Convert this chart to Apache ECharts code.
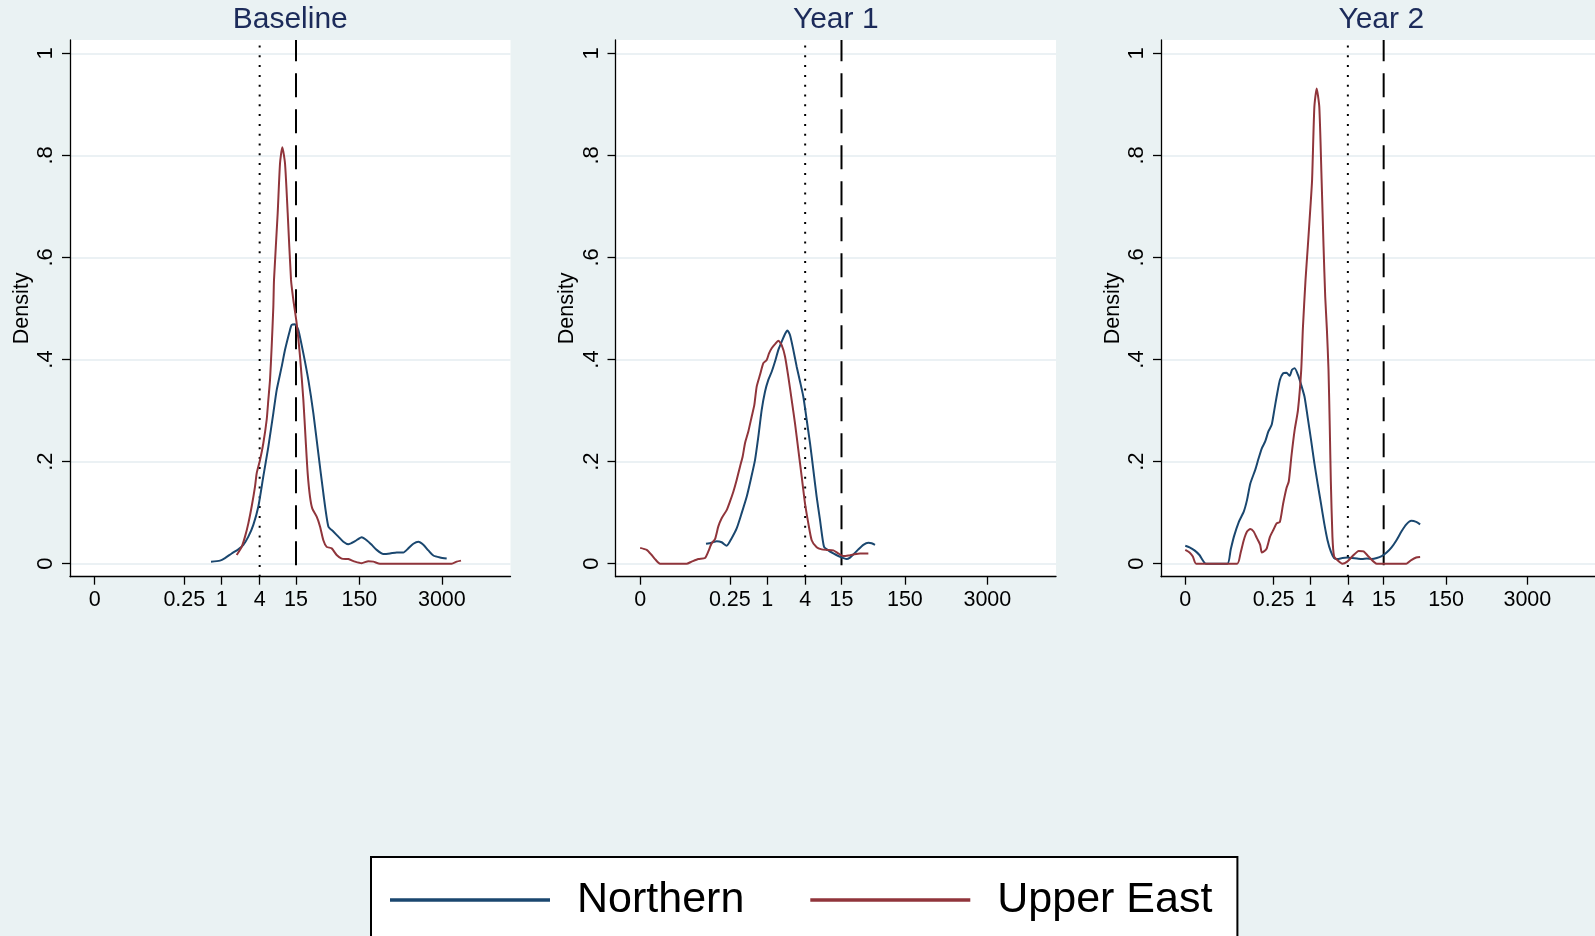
<!DOCTYPE html>
<html>
<head>
<meta charset="utf-8">
<script src="https://cdn.jsdelivr.net/npm/echarts@6/dist/echarts.min.js"></script>
<style>
html,body{margin:0;padding:0;background:#eaf2f3;}
#c{width:1595px;height:936px;}
</style>
</head>
<body>
<div id="c"></div>
<script>
// ---- tick labels / axis values ----
const xTickValues = [0, 0.25, 1, 4, 15, 150, 3000];
const xTickLabels = ['0', '0.25', '1', '4', '15', '150', '3000'];
const yTickValues = [0, 0.2, 0.4, 0.6, 0.8, 1];
const yTickLabels = ['0', '.2', '.4', '.6', '.8', '1'];
const panelTitles = ['Baseline', 'Year 1', 'Year 2'];
const seriesNames = ['Northern', 'Upper East'];
const dottedLineAt = 4;
const dashedLineAt = 15;

// ---- density curves; x in ln(value + 0.01) units ----
const baseNorthX = [-0.378,-0.051,0.130,0.372,0.614,0.796,0.978,1.159,1.341,1.522,1.704,1.886,2.007,2.189,2.310,2.491,2.552,2.673,2.794,2.976,3.157,3.339,3.520,3.702,3.884,4.065,4.247,4.429,4.610,4.852,5.095,5.276,5.458,5.639,5.881,6.124,6.366,6.608,6.789,6.971,7.153,7.334,7.516,7.698,7.940,8.182];
const baseNorthY = [0.004,0.006,0.011,0.020,0.028,0.037,0.053,0.076,0.112,0.171,0.229,0.295,0.340,0.386,0.419,0.458,0.468,0.469,0.458,0.412,0.360,0.295,0.216,0.138,0.073,0.063,0.053,0.043,0.038,0.044,0.052,0.046,0.037,0.027,0.019,0.020,0.022,0.022,0.030,0.039,0.043,0.037,0.026,0.016,0.012,0.010];

const baseEastX = [0.554,0.736,0.857,0.978,1.099,1.220,1.281,1.402,1.522,1.644,1.704,1.765,1.825,1.886,1.910,2.044,2.128,2.212,2.310,2.407,2.528,2.612,2.733,2.855,2.976,3.060,3.133,3.218,3.302,3.460,3.581,3.702,3.823,4.005,4.186,4.368,4.610,4.852,5.095,5.337,5.518,5.760,8.364,8.545,8.703];
const baseEastY = [0.017,0.033,0.053,0.079,0.112,0.151,0.177,0.203,0.236,0.282,0.321,0.360,0.425,0.504,0.556,0.687,0.784,0.816,0.784,0.687,0.556,0.517,0.471,0.406,0.321,0.242,0.177,0.131,0.108,0.092,0.073,0.046,0.033,0.030,0.017,0.010,0.009,0.004,0.001,0.005,0.004,0.000,0.000,0.004,0.006];

const y1NorthX = [-2.213,-2.007,-1.825,-1.644,-1.462,-1.280,-1.099,-0.917,-0.735,-0.578,-0.433,-0.312,-0.191,-0.070,0.051,0.173,0.294,0.415,0.536,0.657,0.742,0.838,0.959,1.081,1.202,1.323,1.444,1.565,1.686,1.807,1.928,2.074,2.231,2.413,2.594,2.776,2.897,3.018,3.139,3.320,3.502,3.684,3.805,3.926];
const y1NorthY = [0.039,0.041,0.044,0.042,0.035,0.050,0.069,0.099,0.131,0.167,0.203,0.249,0.301,0.337,0.360,0.376,0.396,0.419,0.435,0.450,0.457,0.448,0.419,0.386,0.357,0.327,0.282,0.236,0.184,0.131,0.086,0.033,0.026,0.020,0.015,0.011,0.009,0.012,0.018,0.028,0.037,0.041,0.040,0.037];

const y1EastX = [-4.605,-4.368,-4.186,-4.065,-3.884,-2.915,-2.733,-2.491,-2.249,-2.128,-2.007,-1.886,-1.765,-1.644,-1.462,-1.341,-1.220,-1.099,-0.978,-0.881,-0.796,-0.675,-0.554,-0.457,-0.372,-0.251,-0.130,-0.009,0.076,0.173,0.294,0.415,0.536,0.657,0.778,0.899,1.020,1.141,1.262,1.383,1.504,1.626,1.807,1.989,2.170,2.413,2.594,2.776,2.957,3.139,3.381,3.684];
const y1EastY = [0.031,0.027,0.017,0.009,0.000,0.000,0.004,0.009,0.011,0.024,0.040,0.048,0.073,0.089,0.105,0.122,0.141,0.164,0.190,0.210,0.236,0.259,0.288,0.311,0.347,0.370,0.393,0.399,0.412,0.422,0.430,0.437,0.428,0.406,0.366,0.321,0.275,0.223,0.171,0.118,0.079,0.046,0.032,0.028,0.027,0.026,0.020,0.015,0.016,0.018,0.020,0.020];

const y2NorthX = [-4.605,-4.447,-4.265,-4.083,-3.841,-3.054,-2.933,-2.812,-2.630,-2.449,-2.328,-2.207,-2.025,-1.904,-1.783,-1.662,-1.541,-1.420,-1.323,-1.238,-1.117,-0.996,-0.875,-0.754,-0.669,-0.572,-0.451,-0.330,-0.209,-0.088,0.033,0.154,0.275,0.397,0.518,0.639,0.760,0.881,1.002,1.184,1.365,1.547,1.728,1.910,2.092,2.273,2.455,2.637,2.818,3.000,3.181,3.363,3.545,3.726,3.908,4.053];
const y2NorthY = [0.035,0.032,0.026,0.017,0.000,0.000,0.027,0.053,0.082,0.102,0.125,0.157,0.184,0.206,0.226,0.239,0.259,0.272,0.301,0.327,0.360,0.373,0.374,0.368,0.380,0.383,0.370,0.350,0.327,0.285,0.242,0.197,0.157,0.118,0.079,0.046,0.024,0.011,0.009,0.011,0.012,0.011,0.010,0.009,0.010,0.009,0.011,0.015,0.022,0.032,0.046,0.063,0.077,0.084,0.082,0.077];

const y2EastX = [-4.605,-4.447,-4.326,-4.204,-2.691,-2.570,-2.449,-2.328,-2.207,-2.086,-1.965,-1.844,-1.783,-1.662,-1.601,-1.480,-1.359,-1.238,-1.117,-0.996,-0.875,-0.790,-0.693,-0.572,-0.451,-0.330,-0.269,-0.172,-0.088,0.009,0.070,0.154,0.239,0.336,0.421,0.493,0.554,0.614,0.675,0.724,0.760,0.820,0.881,1.002,1.184,1.365,1.547,1.789,1.970,2.152,2.455,3.545,3.726,3.908,4.053];
const y2EastY = [0.027,0.022,0.014,0.000,0.000,0.020,0.046,0.063,0.068,0.063,0.050,0.037,0.022,0.026,0.030,0.053,0.066,0.079,0.082,0.118,0.148,0.161,0.210,0.262,0.301,0.380,0.461,0.556,0.621,0.699,0.752,0.895,0.931,0.895,0.752,0.621,0.523,0.461,0.380,0.262,0.164,0.053,0.014,0.007,0.000,0.004,0.014,0.025,0.024,0.014,0.000,0.000,0.007,0.012,0.013];

// ---- build ----
const toX = v => Math.log(v + 0.01);
const xTickPos = xTickValues.map(toX);
const zip = (xs, ys) => xs.map((x, i) => [x, ys[i]]);

const panels = [
  { north: zip(baseNorthX, baseNorthY), east: zip(baseEastX, baseEastY) },
  { north: zip(y1NorthX, y1NorthY), east: zip(y1EastX, y1EastY) },
  { north: zip(y2NorthX, y2NorthY), east: zip(y2EastX, y2EastY) }
];

const FONT = '"Liberation Sans", Arial, Helvetica, sans-serif';
const X_MIN = -5.5, X_MAX = 10.5, Y_MIN = -0.0255, Y_MAX = 1.026;
const gridLefts = [70, 615.5, 1161];
const gridW = 440.5, gridTop = 40, gridH = 536.7;
const NAVY = '#1a476f', MAROON = '#90353b';

const nearestLabel = (v, pos, labels) => {
  let best = 0, d = Infinity;
  pos.forEach((p, i) => { const dd = Math.abs(p - v); if (dd < d) { d = dd; best = i; } });
  return labels[best];
};

const grid = gridLefts.map(l => ({
  left: l, top: gridTop, width: gridW, height: gridH,
  show: true, backgroundColor: '#ffffff', borderWidth: 0
}));

const xAxis = gridLefts.map((l, i) => ({
  type: 'value', gridIndex: i, min: X_MIN, max: X_MAX, position: 'bottom',
  axisLine: { show: true, onZero: false, lineStyle: { color: '#000', width: 1.3 } },
  axisTick: { show: true, length: 8, customValues: xTickPos, lineStyle: { color: '#000', width: 1.3 } },
  axisLabel: {
    customValues: xTickPos, fontSize: 21.5, color: '#000', margin: 12, fontFamily: FONT,
    formatter: v => nearestLabel(v, xTickPos, xTickLabels)
  },
  splitLine: { show: false }
}));

const yAxis = gridLefts.map((l, i) => ({
  type: 'value', gridIndex: i, min: Y_MIN, max: Y_MAX, position: 'left',
  name: 'Density', nameLocation: 'middle', nameGap: 37, nameRotate: 90,
  nameTextStyle: { fontSize: 21.5, color: '#000', fontFamily: FONT },
  axisLine: { show: true, onZero: false, lineStyle: { color: '#000', width: 1.3 } },
  axisTick: { show: true, length: 8, customValues: yTickValues, lineStyle: { color: '#000', width: 1.3 } },
  axisLabel: {
    customValues: yTickValues, rotate: 90, fontSize: 22, color: '#000', margin: 13, fontFamily: FONT,
    formatter: v => nearestLabel(v, yTickValues, yTickLabels)
  },
  splitLine: { show: true, lineStyle: { color: '#e4edf0', width: 1.5 } }
}));

const series = [];
panels.forEach((p, i) => {
  series.push({
    type: 'line', name: 'dotted', xAxisIndex: i, yAxisIndex: i, silent: true,
    data: [[toX(dottedLineAt), Y_MAX], [toX(dottedLineAt), Y_MIN]],
    symbol: 'none', z: 1,
    lineStyle: { color: '#000', width: 2, type: [2, 7.8], dashOffset: 4.3, cap: 'butt' }
  });
  series.push({
    type: 'line', name: 'dashed', xAxisIndex: i, yAxisIndex: i, silent: true,
    data: [[toX(dashedLineAt), Y_MAX], [toX(dashedLineAt), Y_MIN]],
    symbol: 'none', z: 1,
    lineStyle: { color: '#000', width: 2, type: [24, 12], dashOffset: 2.7, cap: 'butt' }
  });
  series.push({
    type: 'line', name: seriesNames[0], xAxisIndex: i, yAxisIndex: i,
    data: p.north, symbol: 'none', smooth: 0.2, z: 3,
    color: NAVY, lineStyle: { color: NAVY, width: 2 }
  });
  series.push({
    type: 'line', name: seriesNames[1], xAxisIndex: i, yAxisIndex: i,
    data: p.east, symbol: 'none', smooth: 0.2, z: 3,
    color: MAROON, lineStyle: { color: MAROON, width: 2 }
  });
});

const graphic = panelTitles.map((t, i) => ({
  type: 'text', x: gridLefts[i] + gridW / 2, y: 5, silent: true,
  style: {
    text: t, fill: '#1c2b5a', fontSize: 30, fontFamily: FONT,
    textAlign: 'center', textVerticalAlign: 'top'
  }
}));

const option = {
  backgroundColor: '#eaf2f3',
  animation: false,
  grid, xAxis, yAxis, series, graphic,
  legend: {
    data: seriesNames, left: 371, top: 857, orient: 'horizontal',
    backgroundColor: '#ffffff', borderColor: '#000', borderWidth: 2,
    padding: [18, 25, 80, 19],
    icon: 'rect', itemWidth: 160, itemHeight: 3.5, itemGap: 66,
    textStyle: { fontSize: 43, lineHeight: 46, color: '#000', fontFamily: FONT, padding: [4, 0, 0, 22] },
    selectedMode: false
  }
};

const chart = echarts.init(document.getElementById('c'), null, { renderer: 'canvas' });
chart.setOption(option);
</script>
</body>
</html>
